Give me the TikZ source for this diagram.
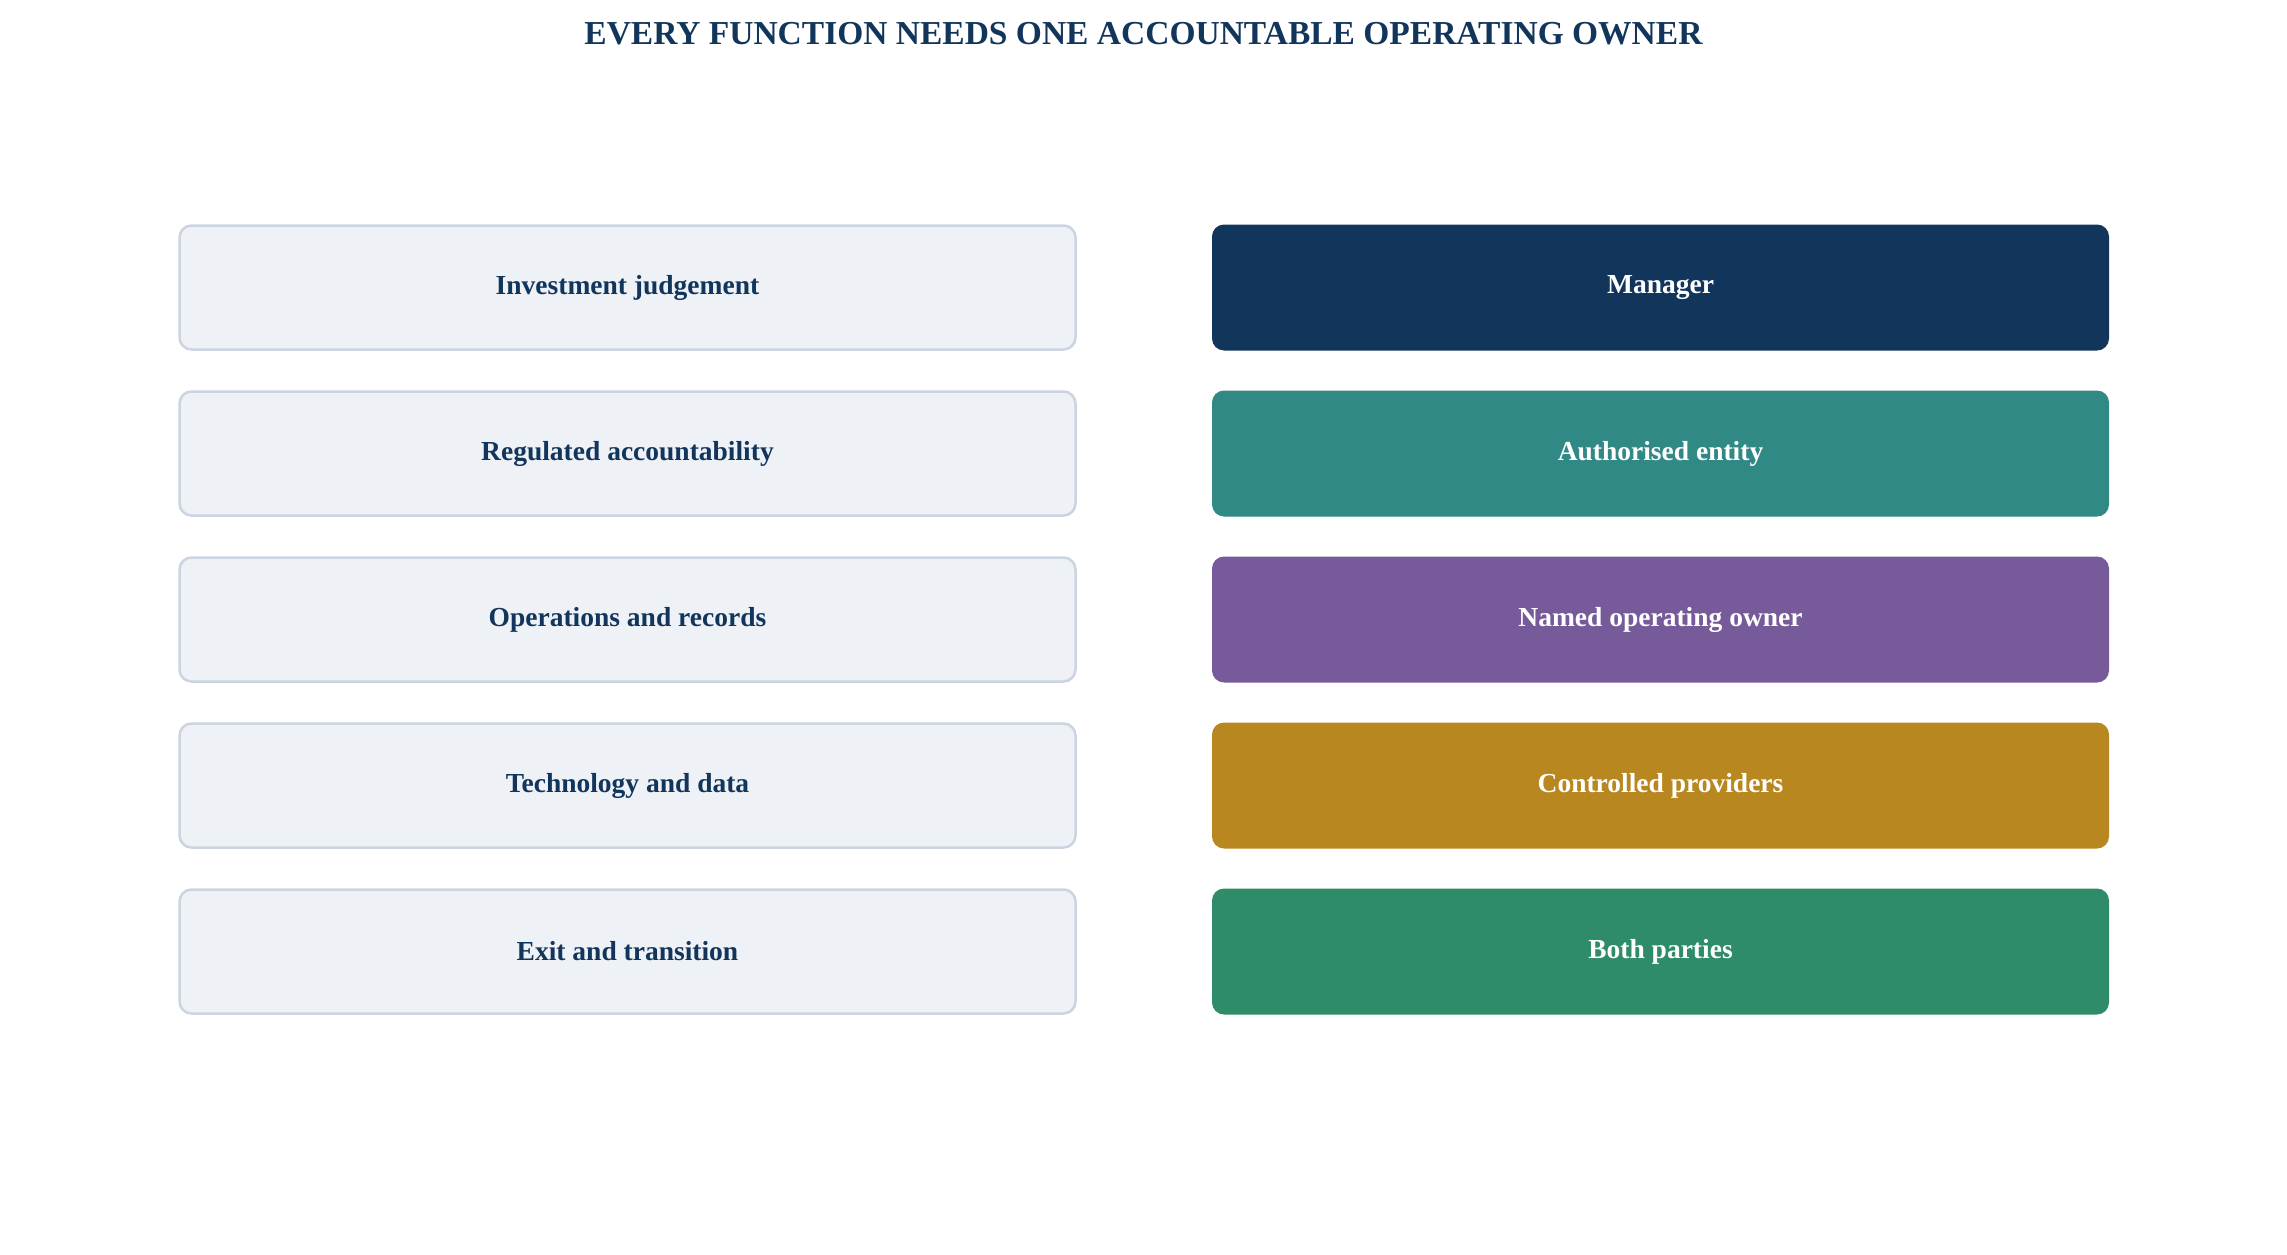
\documentclass[tikz,border=0pt]{standalone}
\usepackage{fontspec}
\setmainfont{Liberation Serif}
\definecolor{navy}{HTML}{12355B}
\definecolor{tealbox}{HTML}{318986}
\definecolor{purplebox}{HTML}{765A99}
\definecolor{goldbox}{HTML}{B8871F}
\definecolor{greenbox}{HTML}{2F8C68}
\definecolor{paleface}{HTML}{EEF1F6}
\definecolor{paleedge}{HTML}{CBD4E0}

\begin{document}
\begin{tikzpicture} [x=1pt,y=-1pt,
  fnbox/.style={draw=paleedge, line width=2.5pt, fill=paleface, rounded corners=12pt,
    minimum width=896pt, minimum height=124pt, inner sep=0, text=navy,
    font=\fontsize{27.5}{32}\selectfont\bfseries},
  ownbox/.style={rounded corners=12pt, minimum width=897pt, minimum height=126pt,
    inner sep=0, text=white, font=\fontsize{27.5}{32}\selectfont\bfseries}]
\useasboundingbox (0,0) rectangle (2287,1255);
\node[anchor=base, text=navy, font=\fontsize{33.5}{38}\selectfont\bfseries] (title) at (1143.5,45)
  {EVERY FUNCTION NEEDS ONE ACCOUNTABLE OPERATING OWNER};
\foreach \fn/\own/\col [count=\i] in {Investment judgement/Manager/navy,
  Regulated accountability/Authorised entity/tealbox,
  Operations and records/Named operating owner/purplebox,
  Technology and data/Controlled providers/goldbox,
  Exit and transition/Both parties/greenbox} {
 \node[fnbox] (fn\i) at (627.5,{287.5+166*(\i-1)}) {\fn};
 \node[ownbox, fill=\col] (own\i) at (1660.5,{287.5+166*(\i-1)}) {\own};
}
\end{tikzpicture}
\end{document}
